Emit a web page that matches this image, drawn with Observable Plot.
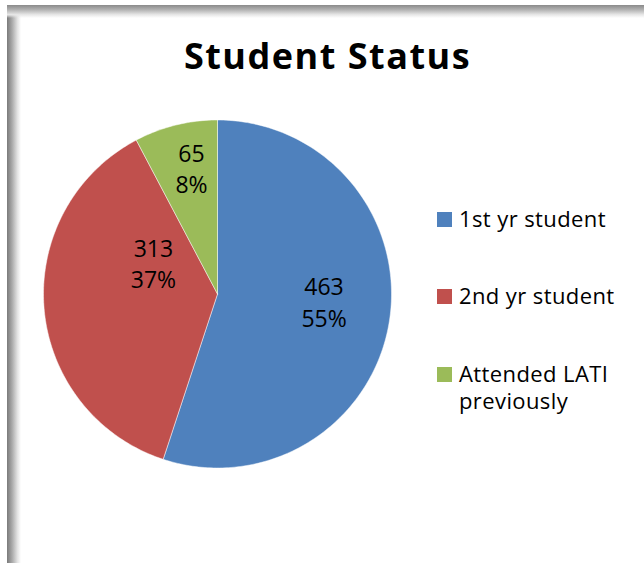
<!DOCTYPE html>
<html>
<head>
<meta charset="utf-8">
<script src="https://cdn.jsdelivr.net/npm/d3@7"></script>
<script src="https://cdn.jsdelivr.net/npm/@observablehq/plot@0.6"></script>
<style>
  html, body { margin: 0; padding: 0; background: #fff; }
  #page { position: relative; width: 644px; height: 563px; overflow: hidden; background: #fff; font-family: "Open Sans", sans-serif; }
  .frame-left { position: absolute; left: 7px; top: 5px; width: 14px; height: 558px; background: linear-gradient(to right, #7a7a7a 0%, #a8a8a8 35%, #e4e4e4 75%, #fff 100%); }
  .frame-top { position: absolute; left: 7px; top: 5px; width: 637px; height: 13px; background: linear-gradient(to bottom, #8a8a8a 0%, #b0b0b0 35%, #e8e8e8 75%, rgba(255,255,255,0) 100%); }
  #chart { position: absolute; left: 0; top: 0; }
  #title { position: absolute; left: 0; width: 655px; text-align: center; font-weight: 700; font-size: 36px; letter-spacing: 1.5px; line-height: 1; top: 38px; color: #000; }
  .lg-sw { position: absolute; width: 15px; height: 15px; }
  .lg-tx { position: absolute; left: 459px; font-size: 22px; letter-spacing: 0.4px; line-height: 25px; height: 25px; color: #000; white-space: nowrap; }
</style>
</head>
<body>
<div id="page">
  <div class="frame-left"></div>
  <div class="frame-top"></div>
  <div id="title">Student Status</div>
  <div id="chart"></div>
</div>
<script>
// ---- data ----
const categories = ["1st yr student", "2nd yr student", "Attended LATI previously"];
const legendLines = [["1st yr student"], ["2nd yr student"], ["Attended LATI", "previously"]];
const counts = [463, 313, 65];
const percents = [55, 37, 8];
const colors = ["#4F81BD", "#C0504D", "#9BBB59"];

// ---- label placement (angle in degrees clockwise from top, radius as fraction) ----
const labelAngle = [95.4, 294, 348.1];
const labelRadius = [0.615, 0.403, 0.725];

// ---- build slices (clockwise from 12 o'clock) ----
const total = d3.sum(counts);
const rad = Math.PI / 180;
const points = [];
let start = 0;
categories.forEach((cat, i) => {
  const sweep = counts[i] / total * 360;
  const end = start + sweep;
  points.push({cat, x: 0, y: 0});
  const n = Math.max(2, Math.ceil(sweep));
  for (let k = 0; k <= n; k++) {
    const a = (start + sweep * k / n) * rad;
    points.push({cat, x: Math.sin(a), y: Math.cos(a)});
  }
  points.push({cat, x: 0, y: 0});
  start = end;
});

const labels = categories.map((cat, i) => ({
  cat,
  x: Math.sin(labelAngle[i] * rad) * labelRadius[i],
  y: Math.cos(labelAngle[i] * rad) * labelRadius[i],
  text: `${counts[i]}\n${percents[i]}%`
}));

const chart = Plot.plot({
  width: 644,
  height: 563,
  margin: 0,
  style: { background: "transparent", overflow: "visible" },
  x: { domain: [-1, 1], range: [43, 391], axis: null },
  y: { domain: [-1, 1], range: [467.5, 119.5], axis: null },
  color: { domain: categories, range: colors },
  marks: [
    Plot.line(points, { x: "x", y: "y", z: "cat", fill: "cat", stroke: "#ffffff", strokeWidth: 0.6, strokeOpacity: 0.8, curve: "linear" }),
    Plot.text(labels, { x: "x", y: "y", dy: -3, text: "text", fontSize: 23, lineHeight: 1.35, fill: "#000", fontFamily: "Open Sans" })
  ]
});
document.getElementById("chart").appendChild(chart);

// ---- legend ----
const swTops = [212, 289, 367];
const page = document.getElementById("page");
categories.forEach((cat, i) => {
  const sw = document.createElement("div");
  sw.className = "lg-sw";
  sw.style.left = "437px";
  sw.style.top = swTops[i] + "px";
  sw.style.background = colors[i];
  page.appendChild(sw);
  legendLines[i].forEach((line, j) => {
    const tx = document.createElement("div");
    tx.className = "lg-tx";
    tx.style.top = (swTops[i] - 6 + j * 27) + "px";
    tx.textContent = line;
    page.appendChild(tx);
  });
});
</script>
</body>
</html>
